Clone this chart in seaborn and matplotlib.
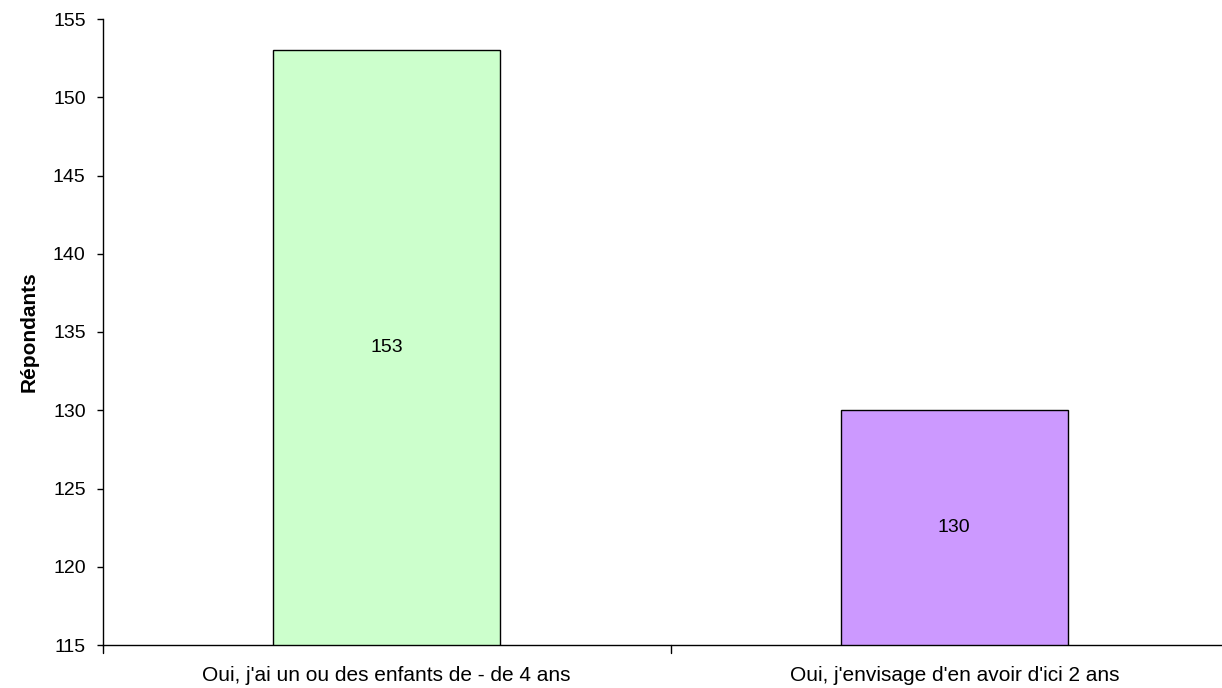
import matplotlib
matplotlib.use("Agg")
import matplotlib.pyplot as plt
import seaborn as sns
import pandas as pd

categories = ["Oui, j'ai un ou des enfants de - de 4 ans", "Oui, j'envisage d'en avoir d'ici 2 ans"]
values = [153, 130]
colors = ["#CCFFCC", "#CC99FF"]
y_ticks = [115, 120, 125, 130, 135, 140, 145, 150, 155]

sns.set_style("white")
plt.rcParams['font.family'] = ['Liberation Sans', 'DejaVu Sans']
plt.rcParams['text.color'] = 'black'
plt.rcParams['axes.labelcolor'] = 'black'
plt.rcParams['xtick.color'] = 'black'
plt.rcParams['ytick.color'] = 'black'

df = pd.DataFrame({"cat": categories, "val": values})

fig = plt.figure(figsize=(12.22, 6.88), dpi=100)
ax = fig.add_axes([103/1222, 1-645/688, (1238-103)/1222, (645-19)/688])

sns.barplot(data=df, x="cat", y="val", hue="cat", palette=colors, width=0.4,
            saturation=1, edgecolor="black", linewidth=1, legend=False, ax=ax)

ax.set_ylim(115, 155)
ax.set_xlim(-0.5, 1.5)
ax.set_yticks(y_ticks)
ax.set_yticklabels([str(t) for t in y_ticks], fontsize=14)
ax.set_xticks([0, 1])
ax.set_xticklabels(categories, fontsize=15)
ax.tick_params(axis='x', length=0, pad=15, colors='black')
ax.tick_params(axis='y', length=4.5, width=1, direction='out', left=True, pad=8, colors='black')
# category separator ticks
for xs in [-0.5, 0.5]:
    ax.plot([xs, xs], [0, -0.012], transform=ax.get_xaxis_transform(), color='black',
            lw=1, clip_on=False)

for i, v in enumerate(values):
    ax.text(i, (115 + v) / 2, str(v), ha='center', va='center', fontsize=14, color='black')

ax.set_xlabel("")
ax.set_ylabel("Répondants", fontsize=15, fontweight='bold', labelpad=10, color='black')

for s in ['top', 'right']:
    ax.spines[s].set_visible(False)
for s in ['left', 'bottom']:
    ax.spines[s].set_color('black')
    ax.spines[s].set_linewidth(1)

fig.savefig("out.png", dpi=100, facecolor='white')
